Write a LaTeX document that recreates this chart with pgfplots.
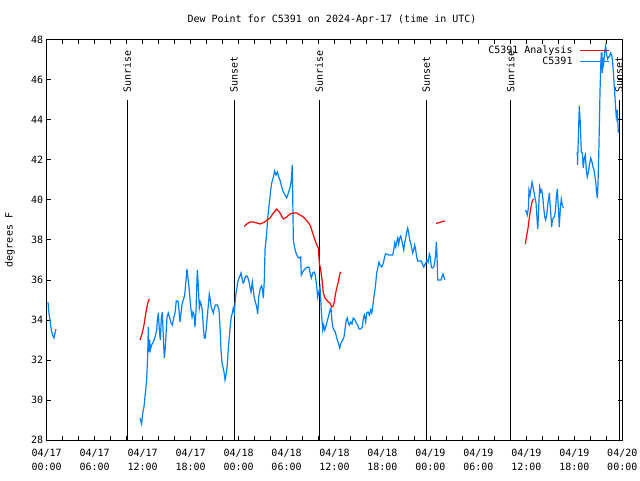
\documentclass[border=0pt]{standalone}
\usepackage{fontspec}
\setmainfont{DejaVu Sans Mono}
\usepackage{pgfplots}
\pgfplotsset{compat=1.18}

\definecolor{obsblue}{RGB}{0,128,255}

\begin{document}
\begin{tikzpicture}
\useasboundingbox (0pt,0pt) rectangle (640pt,480pt);
\begin{axis}[
    at={(46.7pt,40pt)}, anchor=south west,
    scale only axis, width=575.6pt, height=400pt,
    xmin=0, xmax=72, ymin=28, ymax=48,
    xtick={0,6,...,72}, minor x tick num=2,
    ytick={28,30,...,48},
    xticklabels={{04/17\\00:00},{04/17\\06:00},{04/17\\12:00},{04/17\\18:00},
                 {04/18\\00:00},{04/18\\06:00},{04/18\\12:00},{04/18\\18:00},
                 {04/19\\00:00},{04/19\\06:00},{04/19\\12:00},{04/19\\18:00},
                 {04/20\\00:00}},
    xticklabel style={align=center, font=\fontsize{10}{14}\selectfont, yshift=-6pt},
    yticklabel style={font=\fontsize{10}{12}\selectfont},
    /pgf/number format/assume math mode=true,
    tick align=inside,
    major tick length=4.5pt, minor tick length=4.5pt,
    tick style={black, line width=1pt},
    axis line style={line width=1pt},
    every axis title shift=0pt,
    title={Dew Point for C5391 on 2024-Apr-17 (time in UTC)},
    title style={at={(axis description cs:0.4957,1.0425)}, anchor=base, font=\fontsize{10}{12}\selectfont},
    ylabel={degrees F},
    ylabel style={at={(axis description cs:-0.064,0.5)}, anchor=center, font=\fontsize{10}{12}\selectfont},
    clip=false,
    legend plot pos=right,
    legend cell align=right,
    legend image code/.code={\draw[#1] (0pt,0pt) -- (29pt,0pt);},
    legend style={at={(axis description cs:0.9787,0.9865)}, anchor=north east,
        draw opacity=0, fill opacity=0, text opacity=1, inner sep=0pt,
        font=\fontsize{10}{12}\selectfont,
        nodes={inner sep=0pt},
        row sep=2pt, column sep=7pt},
]
\addlegendimage{red, line width=1.3pt, draw opacity=1}
\addlegendentry{\rule[-2.5pt]{0pt}{10pt}C5391 Analysis}
\addlegendimage{obsblue, line width=1.3pt, draw opacity=1}
\addlegendentry{\rule[-2.5pt]{0pt}{10pt}C5391}

% sunrise / sunset markers
\addplot[black, line width=1pt, forget plot] coordinates {(10.05,28) (10.05,45)};
\addplot[black, line width=1pt, forget plot] coordinates {(23.44,28) (23.44,45)};
\addplot[black, line width=1pt, forget plot] coordinates {(34.08,28) (34.08,45)};
\addplot[black, line width=1pt, forget plot] coordinates {(47.46,28) (47.46,45)};
\addplot[black, line width=1pt, forget plot] coordinates {(58.03,28) (58.03,45)};
\addplot[black, line width=1pt, forget plot] coordinates {(71.60,28) (71.60,45)};
\node[rotate=90, anchor=west, inner sep=0pt, font=\fontsize{10}{12}\selectfont] at (axis cs:10.05,45.35) {Sunrise};
\node[rotate=90, anchor=west, inner sep=0pt, font=\fontsize{10}{12}\selectfont] at (axis cs:23.44,45.35) {Sunset};
\node[rotate=90, anchor=west, inner sep=0pt, font=\fontsize{10}{12}\selectfont] at (axis cs:34.08,45.35) {Sunrise};
\node[rotate=90, anchor=west, inner sep=0pt, font=\fontsize{10}{12}\selectfont] at (axis cs:47.46,45.35) {Sunset};
\node[rotate=90, anchor=west, inner sep=0pt, font=\fontsize{10}{12}\selectfont] at (axis cs:58.03,45.35) {Sunrise};
\node[rotate=90, anchor=west, inner sep=0pt, font=\fontsize{10}{12}\selectfont] at (axis cs:71.60,45.35) {Sunset};

% observations
\addplot[obsblue, line width=1.2pt, forget plot] coordinates {
(0.16,34.9) (0.29,34.3) (0.41,34.0) (0.54,33.6) (0.66,33.35) (0.79,33.2) (0.91,33.1) (1.04,33.35) (1.16,33.55)
};
\addplot[obsblue, line width=1.2pt, forget plot] coordinates {
(11.67,29.1) (11.88,28.8) (12.01,29.35) (12.17,29.65) (12.33,30.3) (12.51,31.05) (12.63,32.2) (12.71,33.65)
(12.80,32.4) (12.88,33.0) (12.96,32.5) (13.13,32.75) (13.33,32.9) (13.55,33.15) (13.76,33.5) (13.84,34.0)
(13.96,34.35) (14.09,33.5) (14.21,33.0) (14.34,34.1) (14.46,34.4) (14.59,33.15) (14.71,32.1) (14.84,32.65)
(14.96,33.5) (15.05,34.15) (15.21,34.35) (15.39,34.1) (15.55,33.85) (15.71,33.75) (15.89,34.1) (16.05,34.35)
(16.21,34.95) (16.42,34.95) (16.55,34.5) (16.68,33.9) (16.80,34.35) (16.96,34.85) (17.09,35.0) (17.26,35.25)
(17.43,36.0) (17.55,36.55) (17.64,36.2) (17.80,35.65) (17.93,35.0) (18.05,34.5) (18.18,34.15) (18.30,34.4)
(18.43,34.25) (18.55,33.65) (18.68,34.5) (18.84,36.5) (18.96,35.75) (19.09,34.6) (19.21,34.9) (19.34,34.75)
(19.46,34.5) (19.59,33.65) (19.71,33.1) (19.84,33.1) (19.97,33.65) (20.09,34.15) (20.22,34.75) (20.34,35.3)
(20.47,35.0) (20.59,34.6) (20.72,34.5) (20.84,34.35) (20.97,34.6) (21.09,34.75) (21.34,34.75) (21.55,34.5)
(21.68,33.65) (21.80,32.5) (21.93,31.85) (22.05,31.65) (22.18,31.4) (22.31,31.0) (22.43,31.25) (22.59,31.75)
(22.72,32.6) (22.84,33.15) (22.97,33.75) (23.09,34.15) (23.22,34.35) (23.34,34.6) (23.47,34.35) (23.56,34.85)
(23.68,35.35) (23.81,35.65) (23.89,35.9) (24.05,36.1) (24.18,36.2) (24.31,36.35) (24.43,36.1) (24.56,35.85)
(24.68,35.9) (24.81,36.1) (24.93,36.2) (25.06,36.2) (25.18,36.1) (25.31,35.9) (25.43,35.65) (25.56,35.4)
(25.72,35.9) (25.84,35.5) (25.97,35.1) (26.27,34.65) (26.39,34.3) (26.52,35.15) (26.68,35.5) (26.85,35.7)
(26.97,35.6) (27.10,35.1) (27.22,36.0) (27.31,37.5) (27.52,38.35) (27.65,39.15) (27.85,39.85) (28.02,40.5)
(28.15,40.85) (28.35,41.15) (28.52,41.45) (28.68,41.25) (28.85,41.4) (29.02,41.15) (29.18,41.0) (29.40,40.65)
(29.60,40.4) (29.81,40.25) (30.02,40.1) (30.22,40.35) (30.43,40.6) (30.60,41.0) (30.72,41.75) (30.85,38.0)
(31.02,37.6) (31.19,37.35) (31.40,37.15) (31.60,37.1) (31.77,37.15) (31.85,36.25) (32.02,36.4) (32.19,36.5)
(32.44,36.6) (32.69,36.65) (32.85,36.6) (32.94,36.35) (33.10,36.1) (33.28,36.35) (33.44,36.4) (33.60,36.25)
(33.78,35.65) (33.90,35.15) (34.03,35.4) (34.19,35.65) (34.28,35.0) (34.40,34.15) (34.53,33.5) (34.65,33.75)
(34.78,33.5) (34.90,33.65) (35.06,33.9) (35.23,34.15) (35.44,34.5) (35.56,34.6) (35.69,33.9) (35.85,33.55)
(36.10,33.4) (36.28,33.1) (36.48,32.85) (36.65,32.6) (36.82,32.85) (37.03,33.0) (37.19,33.15) (37.32,33.55)
(37.48,34.0) (37.60,34.1) (37.73,33.85) (37.85,33.75) (38.03,33.9) (38.19,33.8) (38.35,34.1) (38.57,34.0)
(38.73,33.85) (38.90,33.75) (39.07,33.55) (39.28,33.55) (39.48,33.65) (39.61,34.1) (39.73,34.25) (39.90,33.9)
(40.03,34.35) (40.19,34.4) (40.36,34.25) (40.53,34.5) (40.66,34.35) (40.78,34.65) (40.91,35.1) (41.03,35.4)
(41.16,35.85) (41.28,36.35) (41.44,36.65) (41.57,36.9) (41.69,36.75) (41.91,36.65) (42.11,36.85) (42.19,37.0)
(42.36,37.3) (42.53,37.3) (42.78,37.25) (43.03,37.25) (43.28,37.25) (43.41,37.5) (43.53,37.85) (43.66,37.65)
(43.78,37.9) (43.91,38.1) (44.03,37.8) (44.16,38.1) (44.28,38.2) (44.41,38.0) (44.53,37.75) (44.66,37.5)
(44.78,37.85) (44.91,38.1) (45.03,38.4) (45.16,38.6) (45.28,38.35) (45.41,38.0) (45.53,37.85) (45.66,37.6)
(45.78,37.35) (45.91,37.5) (46.03,37.75) (46.16,37.5) (46.28,37.15) (46.41,36.95) (46.61,36.95) (46.86,36.95)
(47.04,36.75) (47.16,36.65) (47.29,36.75) (47.41,36.85) (47.58,37.0) (47.74,36.9) (47.86,37.3) (47.99,37.15)
(48.11,36.65) (48.24,36.6) (48.41,36.65) (48.54,36.9) (48.66,37.3) (48.74,37.9) (48.83,37.15) (48.91,36.0)
(49.07,36.0) (49.32,36.0) (49.44,36.15) (49.57,36.3) (49.69,36.15) (49.79,36.0)
};
\addplot[obsblue, line width=1.2pt, forget plot] coordinates {
(59.87,39.5) (60.00,39.4) (60.12,39.25) (60.25,39.6) (60.33,40.5) (60.46,40.25) (60.58,40.55) (60.71,40.9)
(60.83,40.65) (60.96,40.4) (61.08,40.1) (61.21,39.85) (61.33,39.1) (61.42,38.55) (61.50,39.1) (61.58,40.0)
(61.67,40.65) (61.80,40.4) (61.92,40.5) (62.05,40.15) (62.17,39.6) (62.30,39.15) (62.42,39.0) (62.55,39.25)
(62.67,39.75) (62.80,40.1) (62.87,40.35) (62.96,39.85) (63.08,39.15) (63.17,38.65) (63.25,39.0) (63.37,39.1)
(63.50,39.15) (63.62,39.4) (63.75,40.15) (63.87,40.55) (64.00,39.65) (64.12,38.65) (64.25,39.6) (64.37,40.05)
(64.50,39.75) (64.62,39.6)
};
\addplot[obsblue, line width=1.2pt, forget plot] coordinates {
(66.37,42.4) (66.40,41.75) (66.62,44.7) (66.74,43.9) (66.87,42.4) (67.00,42.35) (67.12,41.6) (67.25,42.1)
(67.37,42.25) (67.50,41.5) (67.62,41.15) (67.75,41.35) (67.87,41.7) (68.05,42.1) (68.21,41.9) (68.33,41.65)
(68.46,41.5) (68.58,41.15) (68.71,40.8) (68.75,40.5) (68.87,40.1) (68.96,40.8) (69.05,42.2) (69.12,43.5)
(69.21,45.4) (69.30,46.65) (69.37,47.35) (69.46,47.35) (69.50,46.35) (69.58,47.1) (69.67,46.85) (69.75,47.2)
(69.83,47.5) (69.92,47.7) (70.05,47.25) (70.17,47.05) (70.30,47.15) (70.42,47.2) (70.55,47.35) (70.67,47.25)
(70.80,46.85) (70.92,46.15) (71.05,45.35) (71.17,44.6) (71.25,44.15) (71.37,44.5) (71.50,43.4) (71.62,43.4)
};

% analysis
\addplot[red, line width=1.2pt, forget plot] coordinates {
(11.67,33.0) (11.92,33.3) (12.17,33.75) (12.42,34.4) (12.67,34.9) (12.84,35.05)
};
\addplot[red, line width=1.2pt, forget plot] coordinates {
(24.72,38.67) (25.02,38.8) (25.43,38.9) (25.84,38.9) (26.27,38.85) (26.68,38.8) (27.10,38.87) (27.52,38.97)
(27.93,39.1) (28.35,39.35) (28.77,39.55) (29.18,39.35) (29.60,39.05) (30.02,39.15) (30.43,39.3) (30.85,39.35)
(31.27,39.35) (31.69,39.25) (32.10,39.15) (32.52,38.97) (32.94,38.75) (33.15,38.5) (33.35,38.25) (33.56,38.0)
(33.78,37.75) (33.98,37.6) (34.10,36.85) (34.28,36.5) (34.44,36.0) (34.60,35.35) (34.81,35.1) (35.03,35.0)
(35.23,34.9) (35.44,34.85) (35.65,34.65) (35.85,34.7) (35.97,34.9) (36.10,35.25) (36.28,35.6) (36.48,35.9)
(36.69,36.35) (36.82,36.4)
};
\addplot[red, line width=1.2pt, forget plot] coordinates {
(48.71,38.83) (49.08,38.87) (49.33,38.9) (49.58,38.93) (49.79,38.95)
};
\addplot[red, line width=1.2pt, forget plot] coordinates {
(59.87,37.8) (60.05,38.25) (60.21,38.6) (60.33,39.0) (60.46,39.35) (60.58,39.65) (60.71,39.9) (60.87,40.05)
};
\end{axis}
\end{tikzpicture}
\end{document}
